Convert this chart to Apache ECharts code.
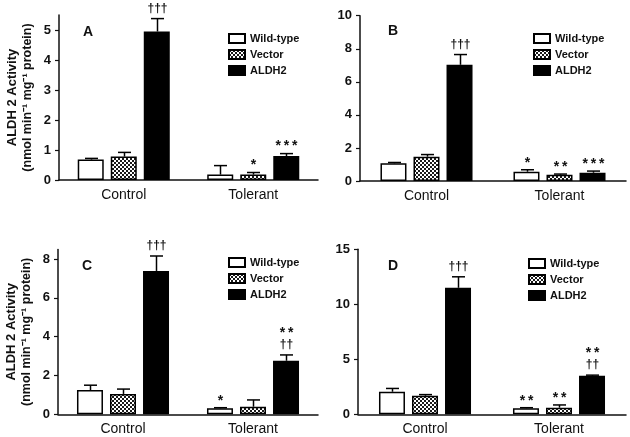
<!DOCTYPE html>
<html><head><meta charset="utf-8">
<script src="https://cdn.jsdelivr.net/npm/echarts@6/dist/echarts.min.js"></script>
<style>html,body{margin:0;padding:0;background:#fff}#c{width:630px;height:437px}</style>
</head><body><div id="c"></div>
<script>
const categories = ['Control', 'Tolerant'];
const seriesNames = ['Wild-type', 'Vector', 'ALDH2'];

// Panel A
const aWild = [0.68, 0.18], aWildErr = [0.04, 0.30];
const aVec = [0.78, 0.18], aVecErr = [0.14, 0.07];
const aAldh = [4.95, 0.80], aAldhErr = [0.43, 0.08];
const aNotes = [['', ''], ['', '*'], ['†††', '***']];
const aTicks = [0, 1, 2, 3, 4, 5];
// Panel B
const bWild = [1.07, 0.56], bWildErr = [0.05, 0.12];
const bVec = [1.47, 0.38], bVecErr = [0.13, 0.04];
const bAldh = [7.03, 0.50], bAldhErr = [0.62, 0.10];
const bNotes = [['', '*'], ['', '**'], ['†††', '***']];
const bTicks = [0, 2, 4, 6, 8, 10];
// Panel C
const cWild = [1.25, 0.31], cWildErr = [0.25, 0.03];
const cVec = [1.05, 0.39], cVecErr = [0.25, 0.35];
const cAldh = [7.39, 2.76], cAldhErr = [0.77, 0.30];
const cNotes = [['', '*'], ['', ''], ['†††', '**\n††']];
const cTicks = [0, 2, 4, 6, 8];
// Panel D
const dWild = [2.05, 0.55], dWildErr = [0.30, 0.05];
const dVec = [1.69, 0.60], dVecErr = [0.10, 0.25];
const dAldh = [11.5, 3.50], dAldhErr = [1.00, 0.06];
const dNotes = [['', '**'], ['', '**'], ['†††', '**\n††']];
const dTicks = [0, 5, 10, 15];

const panels = [
  {label: 'A', vals: [aWild, aVec, aAldh], errs: [aWildErr, aVecErr, aAldhErr], notes: aNotes, ticks: aTicks, max: 5.5,
   grid: {left: 59, right: 312, top: 15, bottom: 257}, legend: {left: 228, top: 33}, letter: {left: 78, top: 20}, ytitle: true},
  {label: 'B', vals: [bWild, bVec, bAldh], errs: [bWildErr, bVecErr, bAldhErr], notes: bNotes, ticks: bTicks, max: 10,
   grid: {left: 360, right: 4, top: 15.7, bottom: 256}, legend: {left: 533, top: 33}, letter: {left: 383, top: 19}, ytitle: false},
  {label: 'C', vals: [cWild, cVec, cAldh], errs: [cWildErr, cVecErr, cAldhErr], notes: cNotes, ticks: cTicks, max: 8.5,
   grid: {left: 58, right: 312, top: 249.4, bottom: 22.7}, legend: {left: 228, top: 257}, letter: {left: 77, top: 254}, ytitle: true},
  {label: 'D', vals: [dWild, dVec, dAldh], errs: [dWildErr, dVecErr, dAldhErr], notes: dNotes, ticks: dTicks, max: 15,
   grid: {left: 358, right: 4, top: 249.3, bottom: 22.7}, legend: {left: 528, top: 258}, letter: {left: 383, top: 254}, ytitle: false}
];

// checker pattern for Vector
const pc = document.createElement('canvas');
pc.width = 4; pc.height = 4;
const pctx = pc.getContext('2d');
pctx.fillStyle = '#ffffff'; pctx.fillRect(0, 0, 4, 4);
pctx.fillStyle = '#1a1a1a'; pctx.fillRect(0, 0, 2, 2); pctx.fillRect(2, 2, 2, 2);

const fills = ['#ffffff', {image: pc, repeat: 'repeat'}, '#000000'];
const BAR_W = 26, STEP = 33;
const FONT = 'Liberation Sans, Arial, Helvetica, sans-serif';

function noteChildren(note, x, capY) {
  const lines = note.split('\n').reverse();
  const out = [];
  let y = capY;
  lines.forEach((ln, i) => {
    const isStar = ln.indexOf('*') >= 0;
    if (isStar) {
      const cy = (i === 0) ? capY - 7 : y - 6;
      out.push({type: 'text', style: {text: ln.split('').join('\u2009'), x: x, y: cy, align: 'center', verticalAlign: 'middle',
        fontSize: 14, fontWeight: 'bold', fill: '#111', fontFamily: FONT}});
      y = cy - 10;
    } else {
      const cy = capY - 10;
      out.push({type: 'text', style: {text: ln, x: x, y: cy, align: 'center', verticalAlign: 'middle',
        fontSize: 12, fontWeight: 'bold', fill: '#111', fontFamily: FONT}});
      y = cy - 6;
    }
  });
  return out;
}

const grid = [], xAxis = [], yAxis = [], series = [], legend = [], title = [];
panels.forEach((p, pi) => {
  grid.push(p.grid);
  xAxis.push({type: 'category', gridIndex: pi, data: categories,
    axisLine: {lineStyle: {color: '#111', width: 1.5}}, axisTick: {show: false},
    axisLabel: {color: '#111', fontSize: 14, fontFamily: FONT, margin: 8}});
  const y = {type: 'value', gridIndex: pi, min: 0, max: p.max,
    axisLine: {show: true, lineStyle: {color: '#111', width: 1.5}},
    axisTick: {show: true, length: 4, lineStyle: {color: '#111', width: 1.2}, customValues: p.ticks},
    axisLabel: {color: '#111', fontSize: 13, fontWeight: 'bold', fontFamily: FONT, margin: 8, customValues: p.ticks},
    splitLine: {show: false}};
  if (p.ytitle) {
    y.name = '{a|ALDH 2 Activity}\n{b|(nmol min⁻¹ mg⁻¹ protein)}';
    y.nameLocation = 'middle'; y.nameGap = 24; y.nameRotate = 90;
    y.nameTextStyle = {color: '#111', fontFamily: FONT, lineHeight: 15,
      rich: {a: {fontSize: 13, fontWeight: 'bold', fontFamily: FONT, color: '#111', lineHeight: 15},
             b: {fontSize: 12.5, fontWeight: 'bold', fontFamily: FONT, color: '#111', lineHeight: 15}}};
  }
  yAxis.push(y);
  legend.push({orient: 'vertical', left: p.legend.left, top: p.legend.top, padding: 0, itemWidth: 16, itemHeight: 9, itemGap: 5,
    icon: 'rect', data: seriesNames.map(n => ({name: n})),
    textStyle: {fontSize: 11, fontWeight: 'bold', color: '#111', fontFamily: FONT},
    selectedMode: false});
  title.push({text: p.label, left: p.letter.left, top: p.letter.top,
    textStyle: {fontSize: 14, fontWeight: 'bold', color: '#111', fontFamily: FONT}});
  seriesNames.forEach((name, si) => {
    series.push({type: 'bar', name: name, xAxisIndex: pi, yAxisIndex: pi, data: p.vals[si],
      barWidth: BAR_W, barGap: '27%',
      itemStyle: {color: fills[si], borderColor: '#000', borderWidth: 1.5}, z: 2});
  });
  seriesNames.forEach((name, si) => {
    const data = categories.map((c, ci) => [ci, p.vals[si][ci], p.errs[si][ci], p.notes[si][ci]]);
    series.push({type: 'custom', xAxisIndex: pi, yAxisIndex: pi, z: 5, silent: true,
      data: data,
      renderItem: function (params, api) {
        const ci = api.value(0);
        const base = api.coord([ci, api.value(1)]);
        const top = api.coord([ci, api.value(1) + api.value(2)]);
        const x = Math.round(base[0] + (si - 1) * STEP) + 0.5;
        const note = data[params.dataIndex][3];
        let children = [
          {type: 'line', shape: {x1: x, y1: base[1], x2: x, y2: top[1]}, style: {stroke: '#000', lineWidth: 1.5}},
          {type: 'line', shape: {x1: x - 6.5, y1: top[1], x2: x + 6.5, y2: top[1]}, style: {stroke: '#000', lineWidth: 1.5}}
        ];
        if (note) children = children.concat(noteChildren(note, x, top[1]));
        return {type: 'group', children: children};
      }});
  });
});

const chart = echarts.init(document.getElementById('c'), null, {renderer: 'canvas'});
chart.setOption({animation: false, backgroundColor: '#fff', title, grid, xAxis, yAxis, legend, series});
</script></body></html>
